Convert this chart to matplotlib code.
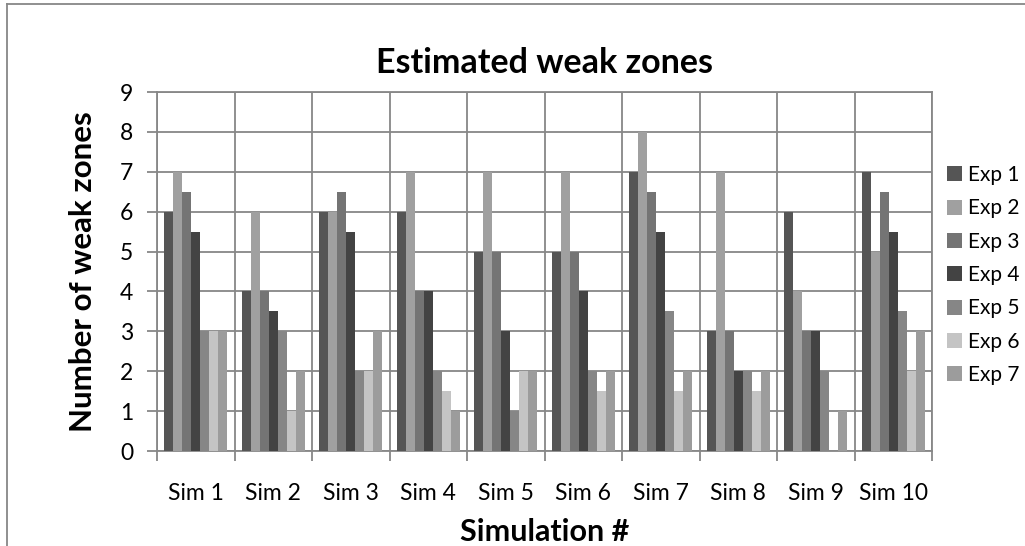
import numpy as np
import matplotlib.pyplot as plt
from matplotlib.lines import Line2D

plt.rcParams['font.family'] = ['Lato', 'DejaVu Sans']

# data
sims = ['Sim 1', 'Sim 2', 'Sim 3', 'Sim 4', 'Sim 5',
        'Sim 6', 'Sim 7', 'Sim 8', 'Sim 9', 'Sim 10']
exp_names = ['Exp 1', 'Exp 2', 'Exp 3', 'Exp 4', 'Exp 5', 'Exp 6', 'Exp 7']
exp1 = [6, 4, 6, 6, 5, 5, 7, 3, 6, 7]
exp2 = [7, 6, 6, 7, 7, 7, 8, 7, 4, 5]
exp3 = [6.5, 4, 6.5, 4, 5, 5, 6.5, 3, 3, 6.5]
exp4 = [5.5, 3.5, 5.5, 4, 3, 4, 5.5, 2, 3, 5.5]
exp5 = [3, 3, 2, 2, 1, 2, 3.5, 2, 2, 3.5]
exp6 = [3, 1, 2, 1.5, 2, 1.5, 1.5, 1.5, 0, 2]
exp7 = [3, 2, 3, 1, 2, 2, 2, 2, 1, 3]
series = [exp1, exp2, exp3, exp4, exp5, exp6, exp7]
colors = ['#555555', '#a0a0a0', '#747474', '#434343', '#868686', '#c4c4c4', '#9c9c9c']

fig = plt.figure(figsize=(10.25, 5.46), dpi=100)
ax = fig.add_axes([157 / 1025, 95 / 546, 775 / 1025, 359 / 546])

x = np.arange(1, len(sims) + 1)
w = 0.81 / len(series)
for i, (vals, c, name) in enumerate(zip(series, colors, exp_names)):
    ax.bar(x - 0.405 + w * (i + 0.5), vals, width=w, color=c, label=name, zorder=3)

ax.set_xlim(0.5, len(sims) + 0.5)
ax.set_ylim(0, 9)
ax.set_yticks(range(0, 10))
ax.set_xticks(x)
ax.set_xticklabels(sims)
ax.set_xticks(np.arange(0.5, len(sims) + 1), minor=True)

gc = '#878787'
ax.grid(True, axis='y', which='major', color=gc, lw=1.3, zorder=0)
ax.grid(True, axis='x', which='minor', color=gc, lw=1.3, zorder=0)
ax.tick_params(axis='x', which='major', length=0, pad=23, labelsize=16.5)
ax.tick_params(axis='x', which='minor', length=7, width=1.3, color=gc, direction='out')
ax.tick_params(axis='y', length=7, width=1.3, color=gc, direction='out', pad=10, labelsize=16.5)
for s in ax.spines.values():
    s.set_color(gc)
    s.set_linewidth(1.3)

ax.set_title('Estimated weak zones', fontsize=24.5, fontweight='bold', pad=14)
ax.set_xlabel('Simulation #', fontsize=22, fontweight='bold', labelpad=10)
ax.set_ylabel('Number of weak zones', fontsize=22.5, fontweight='bold', labelpad=16.5)

ax.legend(loc='center left', bbox_to_anchor=(1.0, 0.49), frameon=False,
          fontsize=15, handlelength=0.72, handleheight=0.72, handletextpad=0.29,
          labelspacing=0.64, borderaxespad=0.3)

# chart border (cropped on right and bottom)
fig.add_artist(Line2D([7 / 1025, 1], [1 - 4 / 546, 1 - 4 / 546], color=gc, lw=1.3))
fig.add_artist(Line2D([7 / 1025, 7 / 1025], [0, 1 - 4 / 546], color=gc, lw=1.3))

fig.savefig('out.png', dpi=100)
